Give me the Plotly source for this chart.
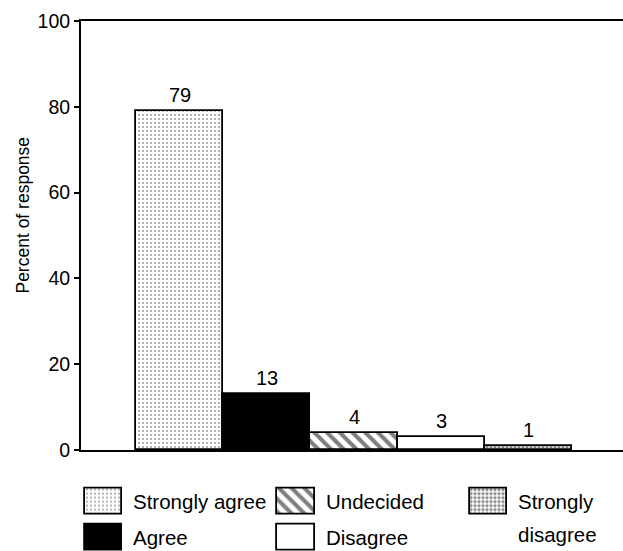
import plotly.graph_objects as go

# ---- data ----
categories = ["Strongly agree", "Agree", "Undecided", "Disagree", "Strongly disagree"]
values = [79, 13, 4, 3, 1]
y_ticks = [0, 20, 40, 60, 80, 100]

# legend layout (column, row) and label lines
legend_cols = [0, 0, 1, 1, 2]
legend_rows = [0, 1, 0, 1, 0]
legend_lines = [["Strongly agree"], ["Agree"], ["Undecided"], ["Disagree"], ["Strongly", "disagree"]]

# ---- styles ----
FONT = "Liberation Sans, Arial, sans-serif"
styles = [
    dict(color="white", pattern=dict(shape=".", fgcolor="#333", bgcolor="white", size=4, solidity=0.2, fillmode="overlay")),
    dict(color="black"),
    dict(color="white", pattern=dict(shape="\\", fgcolor="black", bgcolor="white", size=9, solidity=0.45, fillmode="overlay")),
    dict(color="white"),
    dict(color="white", pattern=dict(shape=".", fgcolor="#111", bgcolor="white", size=4, solidity=0.5, fillmode="overlay")),
]

W, H = 623, 551
ml, mt = 81, 21
plot_h = H - mt
base_px = 450
y_dom0 = (H - base_px) / plot_h

fig = go.Figure()

xs = list(range(len(categories)))
for i, (c, v, st) in enumerate(zip(categories, values, styles)):
    fig.add_trace(go.Bar(
        x=[xs[i]], y=[v], name=c, width=1.0,
        marker=dict(line=dict(color="black", width=1.8), **st),
        showlegend=False, xaxis="x", yaxis="y",
    ))

# bar value labels
for i, v in enumerate(values):
    fig.add_annotation(x=xs[i], y=v, xref="x", yref="y", text=str(v), showarrow=False,
                       yanchor="middle", yshift=16, font=dict(family=FONT, size=20, color="black"))

# legend swatches as bars on a secondary axis
sw_w, sw_h = 0.195, 0.70
for i, (c, st) in enumerate(zip(categories, styles)):
    fig.add_trace(go.Bar(
        x=[legend_cols[i]], y=[sw_h], base=[legend_rows[i] - sw_h / 2], width=sw_w,
        marker=dict(line=dict(color="black", width=1.8), **st),
        showlegend=False, xaxis="x2", yaxis="y2", hoverinfo="skip",
    ))
    for k, line in enumerate(legend_lines[i]):
        fig.add_annotation(x=legend_cols[i] + 0.145, y=legend_rows[i] + k * 0.92, xref="x2", yref="y2",
                           text=line, showarrow=False, xanchor="left", yanchor="middle",
                           font=dict(family=FONT, size=20.5, color="black"))

# y-axis title
fig.add_annotation(x=-0.13, y=(H - 215) / plot_h, xref="paper", yref="paper",
                   text="Percent of response", textangle=-90, showarrow=False,
                   font=dict(family=FONT, size=17.5, color="black"))

fig.update_layout(
    width=W, height=H,
    margin=dict(l=ml, r=0, t=mt, b=0, autoexpand=False),
    paper_bgcolor="white", plot_bgcolor="white",
    bargap=0, barmode="overlay",
    font=dict(family=FONT, color="black"),
    xaxis=dict(domain=[0, 1], range=[-1.129, 5.083], showgrid=False, zeroline=False,
               showline=True, linecolor="black", linewidth=2, mirror=True, automargin=False,
               showticklabels=False, ticks="", anchor="y", fixedrange=True),
    yaxis=dict(domain=[y_dom0, 1], range=[0, 100], tickvals=y_ticks, showgrid=False, zeroline=False,
               showline=True, linecolor="black", linewidth=2, ticks="outside", ticklen=5,
               tickwidth=1.5, tickcolor="black", tickfont=dict(family=FONT, size=19.5, color="black"),
               anchor="x", fixedrange=True, automargin=False),
    xaxis2=dict(domain=[0, 1], range=[-0.1169, 2.699], visible=False, anchor="y2", fixedrange=True, automargin=False),
    yaxis2=dict(domain=[0, 0.18], range=[1.375, -1.275], visible=False, anchor="x2", fixedrange=True, automargin=False),
)

fig.write_html("out.html")
